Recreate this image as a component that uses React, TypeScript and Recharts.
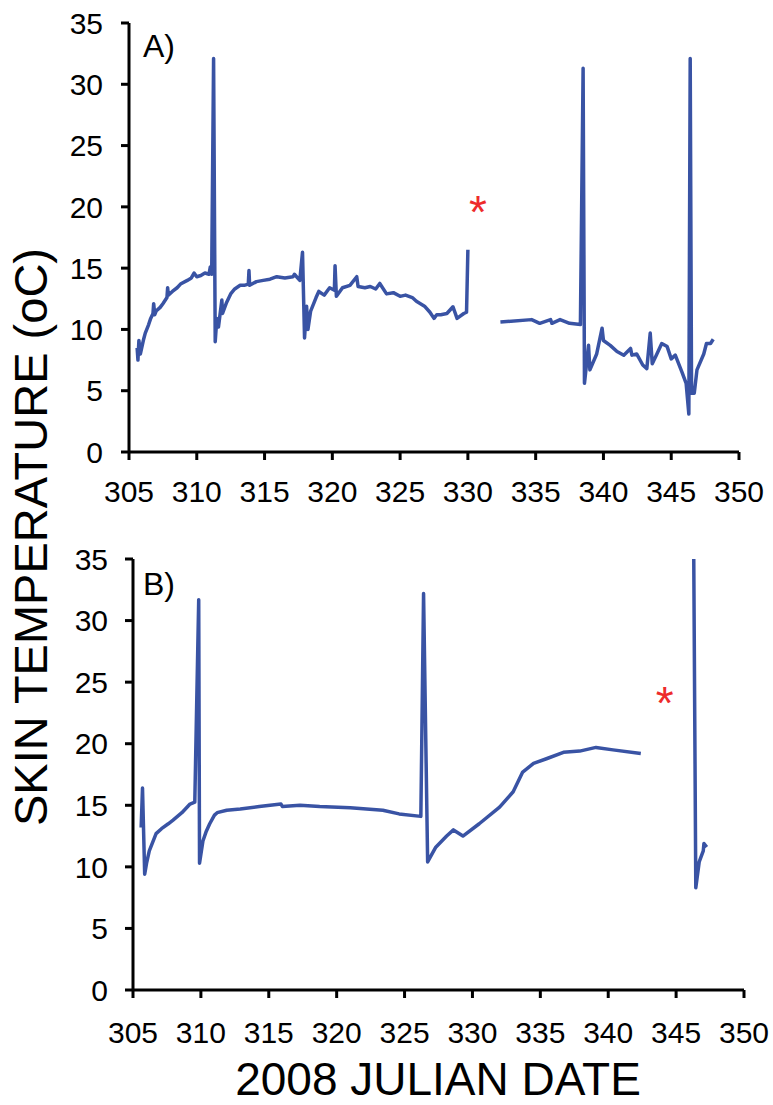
import React from 'react';
import { LineChart, Line, XAxis, YAxis, ReferenceDot } from 'recharts';

// Panel A, first record (days 305.6 - 330.0)
const aDays1 = [
  305.6, 305.66, 305.73, 305.84, 306.08, 306.2, 306.45, 306.6, 306.77, 306.82,
  306.9, 307.0, 307.3, 307.5, 307.8, 307.85, 307.9, 308.2, 308.55, 308.8,
  309.3, 309.6, 309.8, 310.0, 310.3, 310.6, 310.9, 311.0, 311.1, 311.24,
  311.36, 311.48, 311.6, 311.85, 311.9, 312.2, 312.5, 312.8, 313.2, 313.5,
  313.8, 313.85, 313.9, 314.4, 314.9, 315.4, 315.9, 316.5, 317.1, 317.2,
  317.6, 317.8, 317.95, 318.1, 318.2, 318.4, 318.8, 319.0, 319.4, 319.8,
  320.15, 320.2, 320.3, 320.75, 321.3, 321.8, 321.9, 322.4, 322.8, 323.2,
  323.5, 324.0, 324.5, 325.0, 325.4, 325.9, 326.2, 326.5, 326.8, 327.2,
  327.5, 327.7, 328.0, 328.45, 328.9, 329.2, 329.7, 329.9, 330.0,
];
const aTemps1 = [
  8.5, 7.5, 9.1, 8.0, 9.2, 9.7, 10.4, 10.9, 11.3, 12.1,
  11.2, 11.5, 11.8, 12.1, 12.6, 13.4, 12.8, 13.1, 13.4, 13.7,
  14.0, 14.2, 14.6, 14.3, 14.4, 14.6, 14.5, 15.1, 14.5, 32.1,
  9.0, 10.9, 10.2, 12.4, 11.3, 12.2, 12.9, 13.3, 13.6, 13.6,
  13.7, 14.8, 13.6, 13.9, 14.0, 14.1, 14.3, 14.2, 14.3, 14.5,
  14.0, 16.3, 9.3, 11.9, 10.0, 11.5, 12.6, 13.1, 12.8, 13.4,
  13.2, 15.2, 12.7, 13.4, 13.6, 14.3, 13.5, 13.4, 13.5, 13.3,
  13.75, 12.9, 13.0, 12.7, 12.8, 12.6, 12.3, 12.1, 11.9, 11.4,
  10.9, 11.2, 11.2, 11.3, 11.85, 10.9, 11.3, 11.4, 16.5,
];

// Panel A, second record (days 332.4 - 348.1)
const aDays2 = [
  332.4, 334.7, 335.3, 336.1, 336.2, 336.8, 337.5, 338.3, 338.5, 338.6,
  338.9, 339.0, 339.5, 339.9, 340.0, 340.5, 341.0, 341.5, 342.0, 342.1,
  342.45, 342.9, 343.2, 343.45, 343.6, 343.9, 344.3, 344.7, 345.0, 345.3,
  345.8, 346.1, 346.3, 346.4, 346.5, 346.7, 346.9, 347.4, 347.6, 347.9, 348.1,
];
const aTemps2 = [
  10.6, 10.8, 10.5, 10.8, 10.5, 10.8, 10.5, 10.4, 31.3, 5.6,
  8.7, 6.7, 8.0, 10.1, 9.1, 8.7, 8.2, 7.9, 8.45, 7.9,
  8.0, 7.1, 6.8, 9.7, 7.2, 7.9, 8.85, 8.6, 7.6, 7.9,
  6.5, 5.6, 3.1, 32.1, 4.8, 4.8, 6.7, 8.0, 8.85, 8.85, 9.2,
];

// Panel B, first record (days 305.6 - 342.4)
const bDays1 = [
  305.6, 305.7, 305.86, 306.0, 306.2, 306.7, 307.1, 307.6, 307.95, 308.6,
  309.2, 309.55, 309.84, 309.9, 310.15, 310.4, 310.65, 311.0, 311.2, 311.9,
  312.9, 314.3, 315.9, 316.0, 317.3, 318.75, 321.0, 323.4, 324.6, 326.2,
  326.4, 326.7, 327.3, 328.1, 328.6, 329.3, 330.5, 332.0, 333.0, 333.7,
  334.5, 335.5, 336.7, 337.9, 339.1, 340.35, 342.4,
];
const bTemps1 = [
  13.2, 16.4, 9.4, 10.3, 11.3, 12.7, 13.1, 13.5, 13.8, 14.4,
  15.1, 15.25, 31.7, 10.3, 12.1, 12.9, 13.5, 14.2, 14.4, 14.6,
  14.7, 14.9, 15.1, 14.9, 15.0, 14.9, 14.8, 14.6, 14.3, 14.1,
  32.2, 10.4, 11.6, 12.5, 13.0, 12.5, 13.5, 14.85, 16.1, 17.7,
  18.4, 18.8, 19.3, 19.4, 19.7, 19.5, 19.2,
];

// Panel B, second record (days 346.3 - 347.25)
const bDays2 = [346.3, 346.45, 346.7, 347.0, 347.05, 347.25];
const bTemps2 = [35.0, 8.3, 10.4, 11.3, 11.9, 11.6];

const xTicks = [305, 310, 315, 320, 325, 330, 335, 340, 345, 350];
const yTicks = [0, 5, 10, 15, 20, 25, 30, 35];

const starA = { day: 330.74, temp: 20.4 };
const starB = { day: 344.16, temp: 24.1 };

const FONT = 'Arial, "Liberation Sans", sans-serif';
const BLUE = '#3953a4';

function build(segments: Array<[number[], number[]]>) {
  const rows: Array<{ day: number; temp: number | null }> = [];
  segments.forEach(([days, temps], i) => {
    if (i > 0) rows.push({ day: (rows[rows.length - 1].day + days[0]) / 2, temp: null });
    days.forEach((d, j) => rows.push({ day: d, temp: temps[j] }));
  });
  return rows;
}

const dataA = build([[aDays1, aTemps1], [aDays2, aTemps2]]);
const dataB = build([[bDays1, bTemps1], [bDays2, bTemps2]]);

const Asterisk = (props: any) => (
  <text x={props.cx} y={props.cy} dy={26} textAnchor="middle" fill="#ee2b2b" fontSize={46} fontFamily={FONT}>
    *
  </text>
);

interface PanelProps {
  data: Array<{ day: number; temp: number | null }>;
  height: number;
  margin: { top: number; right: number; left: number; bottom: number };
  yWidth: number;
  xHeight: number;
  xTickMargin: number;
  yTickMargin: number;
  star: { day: number; temp: number };
}

function Panel({ data, height, margin, yWidth, xHeight, xTickMargin, yTickMargin, star }: PanelProps) {
  const axisLine = { stroke: '#000', strokeWidth: 3 };
  const tick = { fill: '#000', fontSize: 30, fontFamily: FONT };
  return (
    <LineChart width={773} height={height} data={data} margin={margin}>
      <XAxis
        dataKey="day"
        type="number"
        domain={[305, 350]}
        ticks={xTicks}
        axisLine={axisLine}
        tickLine={axisLine}
        tickSize={8}
        tickMargin={xTickMargin}
        tick={tick}
        height={xHeight}
        interval={0}
      />
      <YAxis
        type="number"
        domain={[0, 35]}
        ticks={yTicks}
        axisLine={axisLine}
        tickLine={axisLine}
        tickSize={8}
        tickMargin={yTickMargin}
        tick={tick}
        width={yWidth}
        interval={0}
      />
      <Line
        dataKey="temp"
        type="linear"
        stroke={BLUE}
        strokeWidth={3.5}
        dot={false}
        isAnimationActive={false}
        strokeLinejoin="round"
      />
      <ReferenceDot x={star.day} y={star.temp} r={0} shape={Asterisk} />
    </LineChart>
  );
}

export default function App() {
  return (
    <div style={{ position: 'absolute', left: 0, top: 0, width: 773, height: 1105, background: '#fff', fontFamily: FONT }}>
      <div style={{ position: 'absolute', left: 0, top: 0 }}>
        <Panel
          data={dataA}
          height={512}
          margin={{ top: 23, right: 34, left: 0, bottom: 0 }}
          yWidth={129}
          xHeight={60}
          xTickMargin={21}
          yTickMargin={18}
          star={starA}
        />
      </div>
      <div style={{ position: 'absolute', left: 0, top: 520 }}>
        <Panel
          data={dataB}
          height={540}
          margin={{ top: 39, right: 29, left: 0, bottom: 0 }}
          yWidth={133}
          xHeight={70}
          xTickMargin={24}
          yTickMargin={17}
          star={starB}
        />
      </div>
      <svg width={773} height={1105} style={{ position: 'absolute', left: 0, top: 0, pointerEvents: 'none' }}>
        <text x={143} y={57} fontSize={32} fontFamily={FONT} fill="#000">A)</text>
        <text x={143} y={595} fontSize={32} fontFamily={FONT} fill="#000">B)</text>
        <text x={438} y={1095} fontSize={46} fontFamily={FONT} fill="#000" textAnchor="middle">
          2008 JULIAN DATE
        </text>
        <text
          x={0}
          y={0}
          fontSize={47}
          fontFamily={FONT}
          fill="#000"
          textAnchor="middle"
          transform="translate(47,537) rotate(-90)"
        >
          SKIN TEMPERATURE (oC)
        </text>
      </svg>
    </div>
  );
}
